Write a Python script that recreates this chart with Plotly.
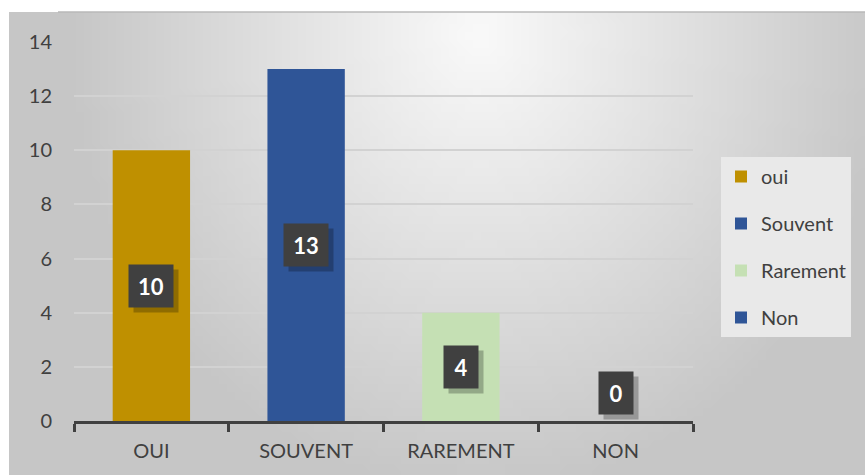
import base64
import struct
import zlib

import plotly.graph_objects as go

# Survey answers
categories = ["OUI", "SOUVENT", "RAREMENT", "NON"]
series_names = ["oui", "Souvent", "Rarement", "Non"]
counts = [10, 13, 4, 0]
colors = ["#BF9000", "#2F5597", "#C5E0B4", "#2F5597"]
y_ticks = [0, 2, 4, 6, 8, 10, 12, 14]

W, H = 865, 475
ML, MR, MT, MB = 74, 172, 42, 54
PW, PH = W - ML - MR, H - MT - MB

TEXT = "#404040"
FONT = "Lato, 'Open Sans', sans-serif"


def px_to_paper_x(px):
    return (px - ML) / PW


def px_to_paper_y(py):
    return (H - MB - py) / PH


def gradient_png(w, h, scale):
    """Soft radial grey backdrop encoded as a data-URI PNG."""
    rows = []
    for j in range(h):
        row = bytearray([0])
        py = j * scale + 12
        for i in range(w):
            px = i * scale + 9
            d = (((px - 480) / 470) ** 2 + ((py - 30) / 520) ** 2) ** 0.5
            v = int(max(198, min(248, 250 - 58 * d)))
            row.append(v)
        rows.append(bytes(row))
    raw = b"".join(rows)

    def chunk(tag, data):
        c = struct.pack(">I", len(data)) + tag + data
        return c + struct.pack(">I", zlib.crc32(tag + data) & 0xFFFFFFFF)

    png = b"\x89PNG\r\n\x1a\n"
    png += chunk(b"IHDR", struct.pack(">IIBBBBB", w, h, 8, 0, 0, 0, 0))
    png += chunk(b"IDAT", zlib.compress(raw, 9))
    png += chunk(b"IEND", b"")
    return "data:image/png;base64," + base64.b64encode(png).decode()


fig = go.Figure()
for cat, name, val, col in zip(categories, series_names, counts, colors):
    fig.add_trace(go.Bar(
        x=[cat], y=[val], name=name, width=0.5,
        marker=dict(color=col, line=dict(width=0)),
        legendgroup=name,
    ))

# Value labels in dark boxes with a soft drop shadow
for cat, val in zip(categories, counts):
    label = str(val)
    bw = 44 if len(label) > 1 else 34
    ys = 28 if val == 0 else 0
    fig.add_annotation(
        x=cat, y=val / 2, xref="x", yref="y", text="",
        showarrow=False, width=bw, height=42, bgcolor="rgba(0,0,0,0.25)",
        xshift=5, yshift=ys - 5, borderpad=0,
    )
    fig.add_annotation(
        x=cat, y=val / 2, xref="x", yref="y",
        text=f"<b>{label}</b>",
        showarrow=False, width=bw, height=42, bgcolor="#404040",
        font=dict(family=FONT, size=22, color="white"),
        yshift=ys, borderpad=0,
    )

bg_w, bg_h, bg_s = 108, 58, 8
fig.add_layout_image(dict(
    source=gradient_png(bg_w, bg_h, bg_s),
    xref="paper", yref="paper",
    x=px_to_paper_x(9), y=px_to_paper_y(12),
    sizex=px_to_paper_x(W) - px_to_paper_x(9),
    sizey=px_to_paper_y(12) - px_to_paper_y(H),
    sizing="stretch", xanchor="left", yanchor="top", layer="below",
))
fig.add_shape(
    type="line", xref="paper", yref="paper",
    x0=px_to_paper_x(58), x1=px_to_paper_x(W),
    y0=px_to_paper_y(12), y1=px_to_paper_y(12),
    line=dict(color="#b8b8b8", width=1.5),
)

fig.update_layout(
    width=W, height=H,
    margin=dict(l=ML, r=MR, t=MT, b=MB, pad=0),
    paper_bgcolor="white",
    plot_bgcolor="rgba(0,0,0,0)",
    barmode="overlay",
    showlegend=True,
    legend=dict(
        x=px_to_paper_x(721), y=px_to_paper_y(157),
        xanchor="left", yanchor="top",
        bgcolor="#e9e9e9", borderwidth=0,
        font=dict(family=FONT, size=20, color=TEXT),
        tracegroupgap=18, itemwidth=30,
    ),
    xaxis=dict(
        categoryorder="array", categoryarray=categories,
        showline=True, linecolor=TEXT, linewidth=3,
        ticks="outside", tickson="boundaries", ticklen=8, tickwidth=3,
        tickcolor=TEXT, showgrid=False,
        tickfont=dict(family=FONT, size=20, color=TEXT),
        ticklabelstandoff=10,
    ),
    yaxis=dict(
        range=[0, 14], tickvals=y_ticks,
        showgrid=True, gridcolor="#d2d2d2", gridwidth=2,
        zeroline=False, showline=False, ticks="",
        tickfont=dict(family=FONT, size=20, color=TEXT),
        ticklabelstandoff=21,
    ),
)

fig.write_html("out.html")
